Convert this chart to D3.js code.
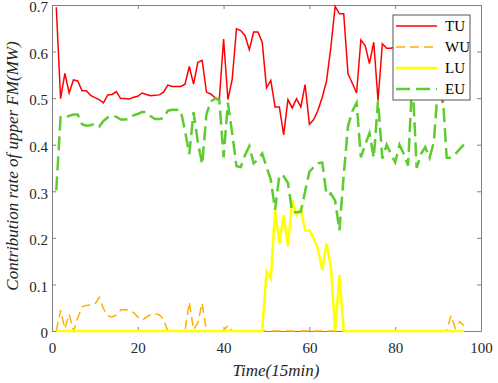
<!DOCTYPE html>
<html>
<head>
<meta charset="utf-8">
<script src="https://cdn.jsdelivr.net/npm/d3@7"></script>
<style>
  body { margin: 0; background: #fff; }
</style>
</head>
<body>
<div id="chart"></div>
<script>
// contribution of upper FM per 15 min step (t = 1..96)
const tu = [0.695, 0.499, 0.553, 0.511, 0.539, 0.537, 0.516, 0.516, 0.506, 0.501, 0.497, 0.490,
  0.507, 0.508, 0.514, 0.499, 0.499, 0.498, 0.502, 0.504, 0.511, 0.508, 0.505, 0.506,
  0.507, 0.513, 0.528, 0.525, 0.525, 0.525, 0.530, 0.568, 0.530, 0.577, 0.581, 0.513,
  0.509, 0.501, 0.497, 0.627, 0.497, 0.540, 0.649, 0.645, 0.634, 0.604, 0.642, 0.642,
  0.620, 0.522, 0.538, 0.481, 0.481, 0.421, 0.497, 0.479, 0.499, 0.481, 0.529, 0.444,
  0.454, 0.474, 0.502, 0.537, 0.609, 0.697, 0.681, 0.681, 0.552, 0.532, 0.511, 0.625,
  0.613, 0.574, 0.620, 0.495, 0.617, 0.607, 0.607, 0.610, 0.620, 0.600, 0.610, 0.630,
  0.600, 0.620, 0.610, 0.600, 0.580, 0.550, 0.490, 0.560, 0.600, 0.620, 0.610, 0.620]

const wu = [0.000, 0.045, 0.005, 0.036, 0.000, 0.028, 0.052, 0.055, 0.056, 0.058, 0.072, 0.048,
  0.033, 0.030, 0.034, 0.045, 0.046, 0.045, 0.040, 0.030, 0.023, 0.030, 0.035, 0.037,
  0.035, 0.025, 0, 0, 0, 0, 0, 0.062, 0.003, 0.018, 0.060, 0,
  0, 0, 0, 0, 0.012, 0, 0, 0, 0, 0, 0, 0,
  0, 0, 0, 0, 0, 0, 0, 0, 0, 0, 0, 0,
  0, 0, 0, 0, 0, 0, 0, 0, 0, 0, 0, 0,
  0, 0, 0, 0, 0, 0, 0, 0, 0, 0, 0, 0,
  0, 0, 0, 0, 0, 0, 0, 0, 0.033, 0.006, 0.020, 0.012]

const lu = [0, 0, 0, 0, 0, 0, 0, 0, 0, 0, 0, 0,
  0, 0, 0, 0, 0, 0, 0, 0, 0, 0, 0, 0,
  0, 0, 0, 0, 0, 0, 0, 0, 0, 0, 0, 0,
  0, 0, 0, 0, 0, 0, 0, 0, 0, 0, 0, 0,
  0, 0.128, 0.113, 0.259, 0.188, 0.249, 0.182, 0.281, 0.249, 0.263, 0.216, 0.216,
  0.199, 0.176, 0.131, 0.188, 0.138, 0, 0.120, 0, 0, 0, 0, 0,
  0, 0, 0, 0, 0, 0, 0, 0, 0, 0, 0, 0,
  0, 0, 0, 0, 0, 0, 0, 0, 0, 0, 0, 0]

const eu = [0.302, 0.459, 0.458, 0.462, 0.465, 0.465, 0.444, 0.441, 0.442, 0.445, 0.439, 0.451,
  0.459, 0.463, 0.460, 0.454, 0.454, 0.455, 0.463, 0.466, 0.470, 0.470, 0.461, 0.455,
  0.455, 0.457, 0.473, 0.475, 0.475, 0.474, 0.430, 0.380, 0.470, 0.405, 0.358, 0.465,
  0.493, 0.499, 0.496, 0.373, 0.490, 0.425, 0.354, 0.352, 0.378, 0.397, 0.360, 0.368,
  0.381, 0.352, 0.325, 0.260, 0.335, 0.332, 0.318, 0.255, 0.255, 0.256, 0.300, 0.342,
  0.352, 0.360, 0.362, 0.292, 0.295, 0.280, 0.216, 0.335, 0.440, 0.472, 0.490, 0.373,
  0.400, 0.425, 0.372, 0.495, 0.370, 0.400, 0.380, 0.362, 0.400, 0.380, 0.355, 0.545,
  0.350, 0.380, 0.395, 0.372, 0.405, 0.530, 0.520, 0.372, 0.372, 0.380, 0.390, 0.400]

const xTicks = [0, 20, 40, 60, 80, 100]
const yTicks = [0, 0.1, 0.2, 0.3, 0.4, 0.5, 0.6, 0.7]

let serif = "'Liberation Serif', 'Times New Roman', serif"

let margin = {top: 5, right: 17, bottom: 52, left: 52},
  width = 498 - margin.left - margin.right,
  height = 383 - margin.top - margin.bottom

let svg = d3
  .select('#chart')
  .append('svg')
  .attr('width', 498)
  .attr('height', 383)

let g = svg
  .append('g')
  .attr('transform', 'translate(' + margin.left + ',' + margin.top + ')')

let x = d3.scaleLinear().domain([0, 100]).range([0, width])
let y = d3.scaleLinear().domain([0, 0.7]).range([height, 0])

// box + inward ticks like matlab
let axisColor = '#808080'
function styleAxis(sel) {
  sel.attr('font-family', serif).attr('font-size', 15)
  sel.select('.domain').attr('stroke', axisColor).attr('fill', 'none')
  sel.selectAll('.tick line').attr('stroke', axisColor)
  sel.selectAll('.tick text')
    .attr('fill', '#262626')
    .style('font-family', serif)
    .style('font-size', '15px')
}

g.append('g')
  .attr('transform', 'translate(0,' + height + ')')
  .call(d3.axisBottom(x).tickValues(xTicks).tickSizeInner(-4).tickSizeOuter(0).tickPadding(11))
  .call(styleAxis)

g.append('g')
  .call(d3.axisTop(x).tickValues(xTicks).tickSizeInner(-4).tickSizeOuter(0).tickFormat(''))
  .call(styleAxis)

let yAxis = g.append('g')
  .call(d3.axisLeft(y).tickValues(yTicks).tickSizeInner(-4).tickSizeOuter(0).tickPadding(4)
    .tickFormat(d => d === 0 ? '0' : d3.format('.1f')(d)))
  .call(styleAxis)
yAxis.selectAll('.tick text').attr('dy', '0.45em')

g.append('g')
  .attr('transform', 'translate(' + width + ',0)')
  .call(d3.axisRight(y).tickValues(yTicks).tickSizeInner(-4).tickSizeOuter(0).tickFormat(''))
  .call(styleAxis)

let series = [
  {name: 'TU', values: tu, color: '#ff0000', width: 1.5, dash: null},
  {name: 'WU', values: wu, color: '#ffb000', width: 1.5, dash: '9,5'},
  {name: 'LU', values: lu, color: '#ffff00', width: 2.5, dash: null},
  {name: 'EU', values: eu, color: '#5ccc2e', width: 2.5, dash: '14,6'}
]

let line = d3
  .line()
  .x((d, i) => x(i + 1))
  .y(d => y(d))

series.forEach(function(s) {
  g.append('path')
    .datum(s.values)
    .attr('fill', 'none')
    .attr('stroke', s.color)
    .attr('stroke-width', s.width)
    .attr('stroke-dasharray', s.dash)
    .attr('d', line)
})

// legend
let legend = svg.append('g').attr('transform', 'translate(393,15)')
legend
  .append('rect')
  .attr('width', 77)
  .attr('height', 85)
  .attr('fill', '#fff')
  .attr('stroke', '#555')
  .attr('stroke-width', 1)

let item = legend
  .selectAll('g')
  .data(series)
  .enter()
  .append('g')
  .attr('transform', (d, i) => 'translate(0,' + (11 + i * 21) + ')')

item
  .append('line')
  .attr('x1', 3)
  .attr('x2', 44)
  .attr('stroke', d => d.color)
  .attr('stroke-width', d => d.width)
  .attr('stroke-dasharray', d => d.dash)

item
  .append('text')
  .attr('x', 52)
  .attr('dy', '0.35em')
  .style('font-family', serif)
  .style('font-size', '15px')
  .attr('fill', '#000')
  .text(d => d.name)

// axis titles
svg
  .append('text')
  .attr('x', 276)
  .attr('y', 376)
  .attr('text-anchor', 'middle')
  .style('font-family', serif)
  .style('font-size', '17px')
  .style('font-style', 'italic')
  .attr('fill', '#262626')
  .text('Time(15min)')

svg
  .append('text')
  .attr('transform', 'translate(18,166) rotate(-90)')
  .attr('text-anchor', 'middle')
  .style('font-family', serif)
  .style('font-size', '17px')
  .style('font-style', 'italic')
  .attr('fill', '#262626')
  .text('Contribution rate of upper FM(MW)')
</script>
</body>
</html>
